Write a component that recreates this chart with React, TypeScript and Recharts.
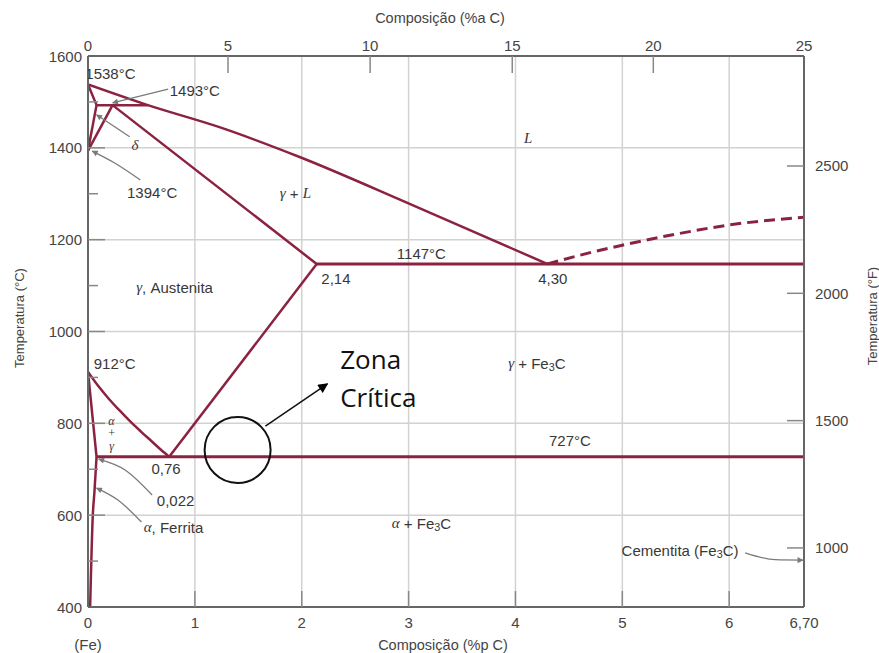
import React from 'react';
import { ComposedChart, Line, Scatter, XAxis, YAxis, CartesianGrid, ReferenceDot } from 'recharts';

const RED = '#8b2340';
const INK = '#383838';
const LEAD = '#7a7a7a';
const SANS = '"Liberation Sans", Arial, Helvetica, sans-serif';
const SERIF = '"Liberation Serif", "DejaVu Serif", serif';
const NOTE_FONT = '"Open Sans", "Noto Sans", sans-serif';

// axes
const compTicks = [0, 1, 2, 3, 4, 5, 6, 6.7];
const compLabels = ['0', '1', '2', '3', '4', '5', '6', '6,70'];
const atomicTicks = [0, 1.31, 2.64, 3.97, 5.29, 6.7]; // %a C marks, placed on the wt% scale
const atomicLabels = ['0', '5', '10', '15', '20', '25'];
const tempTicks = [400, 500, 600, 700, 800, 900, 1000, 1100, 1200, 1300, 1400, 1500, 1600];
const fahrenheitTicks = [1000, 1500, 2000, 2500];
const gridTemps = [600, 800, 1000, 1200, 1400];
const gridComps = [1, 2, 3, 4, 5, 6];

// phase boundaries (w = %p C, t = °C)
const deltaSolidus = [{ w: 0, t: 1538 }, { w: 0.08, t: 1493 }];
const deltaSolvus = [{ w: 0, t: 1394 }, { w: 0.08, t: 1493 }];
const gammaDelta = [{ w: 0, t: 1394 }, { w: 0.23, t: 1493 }];
const peritectic = [{ w: 0.08, t: 1493 }, { w: 0.56, t: 1493 }];
const liquidus = [
  { w: 0, t: 1538 }, { w: 0.56, t: 1493 }, { w: 1.23, t: 1445 },
  { w: 1.98, t: 1380 }, { w: 3.01, t: 1278 }, { w: 4.3, t: 1147 },
];
const solidus = [{ w: 0.23, t: 1493 }, { w: 2.14, t: 1147 }];
const eutectic = [{ w: 2.14, t: 1147 }, { w: 6.7, t: 1147 }];
const cementiteLiquidus = [
  { w: 4.3, t: 1147 }, { w: 4.6, t: 1166 }, { w: 5.0, t: 1188 },
  { w: 5.5, t: 1212 }, { w: 6.0, t: 1232 }, { w: 6.7, t: 1249 },
];
const a3 = [
  { w: 0, t: 912 }, { w: 0.1, t: 880 }, { w: 0.2, t: 852 }, { w: 0.3, t: 827 },
  { w: 0.4, t: 803 }, { w: 0.5, t: 781 }, { w: 0.6, t: 760 }, { w: 0.68, t: 743 },
  { w: 0.76, t: 727 },
];
const acm = [{ w: 0.76, t: 727 }, { w: 2.14, t: 1147 }];
const alphaUpper = [{ w: 0, t: 912 }, { w: 0.08, t: 727 }];
const alphaSolvus = [{ w: 0.02, t: 400 }, { w: 0.045, t: 600 }, { w: 0.06, t: 650 }, { w: 0.08, t: 727 }];
const eutectoid = [{ w: 0.08, t: 727 }, { w: 6.7, t: 727 }];

// leader lines for the annotations
const lead1493 = [{ w: 0.23, t: 1498 }, { w: 0.75, t: 1528 }];
const leadDelta = [{ w: 0.08, t: 1472 }, { w: 0.39, t: 1424 }];
const lead1394 = [{ w: 0.04, t: 1393 }, { w: 0.25, t: 1367 }, { w: 0.49, t: 1330 }];
const lead022 = [{ w: 0.1, t: 722 }, { w: 0.35, t: 698 }, { w: 0.6, t: 644 }];
const leadFerrita = [{ w: 0.08, t: 659 }, { w: 0.28, t: 633 }, { w: 0.5, t: 585 }];
const leadCementita = [{ w: 6.15, t: 518 }, { w: 6.43, t: 503 }, { w: 6.69, t: 502 }];
const zonaArrow = [{ w: 1.66, t: 794 }, { w: 2.24, t: 886 }];
const zonaCircle = { w: 1.4, t: 742 };

const phaseLabels = [
  { w: 0.21, t: 1563, text: '1538°C' },
  { w: 1.0, t: 1526, text: '1493°C' },
  { w: 0.44, t: 1406, text: 'δ' },
  { w: 0.6, t: 1304, text: '1394°C' },
  { w: 1.94, t: 1302, text: 'γ + L' },
  { w: 4.12, t: 1421, text: 'L' },
  { w: 3.12, t: 1171, text: '1147°C' },
  { w: 2.32, t: 1116, text: '2,14' },
  { w: 4.35, t: 1116, text: '4,30' },
  { w: 0.81, t: 1097, text: 'γ, Austenita' },
  { w: 0.25, t: 931, text: '912°C' },
  { w: 4.2, t: 931, text: 'γ + Fe3C' },
  { w: 4.51, t: 764, text: '727°C' },
  { w: 0.73, t: 703, text: '0,76' },
  { w: 0.82, t: 633, text: '0,022' },
  { w: 0.8, t: 574, text: 'α, Ferrita' },
  { w: 3.12, t: 583, text: 'α + Fe3C' },
  { w: 5.54, t: 524, text: 'Cementita (Fe3C)' },
];

// the α + γ field label is stacked in three short lines
const stackLabels = [
  { w: 0.22, t: 806, text: 'α' },
  { w: 0.22, t: 779, text: '+' },
  { w: 0.22, t: 751, text: 'γ' },
];

const noteLabels = [
  { w: 2.36, t: 918, text: 'Zona' },
  { w: 2.36, t: 835, text: 'Crítica' },
];

function richText(str: string) {
  const parts = str.split(/(Fe3C|[αγδ]|\bL\b)/).filter((p) => p !== '');
  return parts.map((p, i) => {
    if (p === 'Fe3C') {
      return [
        <tspan key={i + 'a'}>Fe</tspan>,
        <tspan key={i + 'b'} dy={4} fontSize="72%">3</tspan>,
        <tspan key={i + 'c'} dy={-4}>C</tspan>,
      ];
    }
    if (/^[αγδL]$/.test(p)) {
      return <tspan key={i} fontFamily={SERIF} fontStyle="italic">{p}</tspan>;
    }
    return <tspan key={i}>{p}</tspan>;
  });
}

const PhaseText = (props: any) => (
  <text x={props.cx} y={props.cy} textAnchor="middle" dominantBaseline="central"
    fontFamily={SANS} fontSize={15} fill={INK}>
    {richText(props.payload.text)}
  </text>
);

const StackText = (props: any) => (
  <text x={props.cx} y={props.cy} textAnchor="middle" dominantBaseline="central"
    fontFamily={SERIF} fontStyle="italic" fontSize={12} fill={INK}>
    {props.payload.text}
  </text>
);

const NoteText = (props: any) => (
  <text x={props.cx} y={props.cy} textAnchor="start" fontFamily={NOTE_FONT} fontSize={26} fill="#111">
    {props.payload.text}
  </text>
);

const tickFont = { fontFamily: SANS, fontSize: 15, fill: '#444' };

const LeftTick = ({ x, y, payload }: any) => {
  const v = payload.value;
  const major = v % 200 === 0;
  const edge = v === 400 || v === 1600;
  return (
    <g>
      {!edge && <line x1={x} x2={x + (major ? 17 : 10)} y1={y} y2={y} stroke="#888" strokeWidth={1.5} />}
      {major && <text x={x - 6} y={y} textAnchor="end" dominantBaseline="central" {...tickFont}>{v}</text>}
    </g>
  );
};

const RightTick = ({ x, y, payload }: any) => (
  <g>
    <line x1={x} x2={x - 17} y1={y} y2={y} stroke="#888" strokeWidth={1.5} />
    <text x={x + 11} y={y} textAnchor="start" dominantBaseline="central" {...tickFont}>{payload.value}</text>
  </g>
);

const BottomTick = ({ x, y, payload, index }: any) => {
  const inner = payload.value > 0 && payload.value < 6.7;
  return (
    <g>
      {inner && <line x1={x} x2={x} y1={y} y2={y - 16} stroke="#888" strokeWidth={1.5} />}
      <text x={x} y={y + 15} textAnchor="middle" dominantBaseline="central" {...tickFont}>{compLabels[index]}</text>
    </g>
  );
};

const TopTick = ({ x, y, payload, index }: any) => {
  const inner = payload.value > 0 && payload.value < 6.7;
  return (
    <g>
      {inner && <line x1={x} x2={x} y1={y} y2={y + 17} stroke="#888" strokeWidth={1.5} />}
      <text x={x} y={y - 11} textAnchor="middle" dominantBaseline="central" {...tickFont}>{atomicLabels[index]}</text>
    </g>
  );
};

const boundary = { dataKey: 't', stroke: RED, strokeWidth: 2.5, dot: false, isAnimationActive: false, type: 'linear' as const };
const leader = { dataKey: 't', stroke: LEAD, strokeWidth: 1.3, dot: false, isAnimationActive: false, type: 'monotone' as const };

const titleStyle: React.CSSProperties = {
  position: 'absolute', transform: 'translate(-50%, -50%)', whiteSpace: 'nowrap',
  fontFamily: SANS, color: '#444', lineHeight: 1,
};

export default function App() {
  return (
    <div style={{ position: 'absolute', left: 0, top: 0, width: 879, height: 653, background: '#fff' }}>
      <ComposedChart width={879} height={653} margin={{ top: 26, right: 15, bottom: 16, left: 28 }}>
        <defs>
          <marker id="headGrey" viewBox="0 0 10 10" refX="9" refY="5" markerWidth="8" markerHeight="6"
            markerUnits="userSpaceOnUse" orient="auto-start-reverse">
            <path d="M0,0 L10,5 L0,10 z" fill={LEAD} />
          </marker>
          <marker id="headBlack" viewBox="0 0 10 10" refX="9" refY="5" markerWidth="12" markerHeight="10"
            markerUnits="userSpaceOnUse" orient="auto-start-reverse">
            <path d="M0,0 L10,5 L0,10 z" fill="#000" />
          </marker>
        </defs>
        <CartesianGrid stroke="#d2d2d2" strokeWidth={1.5} horizontalValues={gridTemps} verticalValues={gridComps} />
        <XAxis xAxisId={0} dataKey="w" type="number" domain={[0, 6.7]} ticks={compTicks} interval={0}
          height={30} tickSize={0} tickMargin={0} tickLine={false} tick={<BottomTick />}
          axisLine={{ stroke: '#666', strokeWidth: 2 }} allowDataOverflow />
        <XAxis xAxisId="top" orientation="top" dataKey="w" type="number" domain={[0, 6.7]} ticks={atomicTicks}
          interval={0} height={30} tickSize={0} tickMargin={0} tickLine={false} tick={<TopTick />}
          axisLine={{ stroke: '#666', strokeWidth: 2 }} allowDataOverflow />
        <YAxis yAxisId={0} dataKey="t" type="number" domain={[400, 1600]} ticks={tempTicks} interval={0}
          width={60} tickSize={0} tickMargin={0} tickLine={false} tick={<LeftTick />}
          axisLine={{ stroke: '#666', strokeWidth: 2 }} allowDataOverflow />
        <YAxis yAxisId="f" orientation="right" type="number" domain={[768, 2932]} ticks={fahrenheitTicks}
          interval={0} width={60} tickSize={0} tickMargin={0} tickLine={false} tick={<RightTick />}
          axisLine={{ stroke: '#666', strokeWidth: 2 }} allowDataOverflow />

        <Line data={liquidus} {...boundary} type="monotone" />
        <Line data={deltaSolidus} {...boundary} />
        <Line data={deltaSolvus} {...boundary} />
        <Line data={gammaDelta} {...boundary} />
        <Line data={peritectic} {...boundary} />
        <Line data={solidus} {...boundary} />
        <Line data={eutectic} {...boundary} strokeWidth={3} />
        <Line data={cementiteLiquidus} {...boundary} type="monotone" strokeWidth={3} strokeDasharray="11 6" />
        <Line data={a3} {...boundary} type="monotone" />
        <Line data={acm} {...boundary} />
        <Line data={alphaUpper} {...boundary} />
        <Line data={alphaSolvus} {...boundary} type="monotone" />
        <Line data={eutectoid} {...boundary} strokeWidth={3} />

        <Line data={lead1493} {...leader} markerStart="url(#headGrey)" />
        <Line data={leadDelta} {...leader} markerStart="url(#headGrey)" />
        <Line data={lead1394} {...leader} markerStart="url(#headGrey)" />
        <Line data={lead022} {...leader} markerStart="url(#headGrey)" />
        <Line data={leadFerrita} {...leader} markerStart="url(#headGrey)" />
        <Line data={leadCementita} {...leader} markerEnd="url(#headGrey)" />
        <Line data={zonaArrow} {...leader} type="linear" stroke="#111" strokeWidth={1.5} markerEnd="url(#headBlack)" />

        <ReferenceDot x={zonaCircle.w} y={zonaCircle.t} r={33} fill="none" stroke="#111" strokeWidth={2} />

        <Scatter data={phaseLabels} dataKey="t" shape={<PhaseText />} isAnimationActive={false} />
        <Scatter data={stackLabels} dataKey="t" shape={<StackText />} isAnimationActive={false} />
        <Scatter data={noteLabels} dataKey="t" shape={<NoteText />} isAnimationActive={false} />
      </ComposedChart>

      <div style={{ ...titleStyle, left: 440, top: 18, fontSize: 14.5 }}>Composição (%a C)</div>
      <div style={{ ...titleStyle, left: 443, top: 645, fontSize: 14.5 }}>Composição (%p C)</div>
      <div style={{ ...titleStyle, left: 88, top: 644, fontSize: 15 }}>(Fe)</div>
      <div style={{ ...titleStyle, left: 19, top: 318, fontSize: 13, transform: 'translate(-50%, -50%) rotate(-90deg)' }}>
        Temperatura (°C)
      </div>
      <div style={{ ...titleStyle, left: 872, top: 316, fontSize: 13, transform: 'translate(-50%, -50%) rotate(-90deg)' }}>
        Temperatura (°F)
      </div>
    </div>
  );
}
